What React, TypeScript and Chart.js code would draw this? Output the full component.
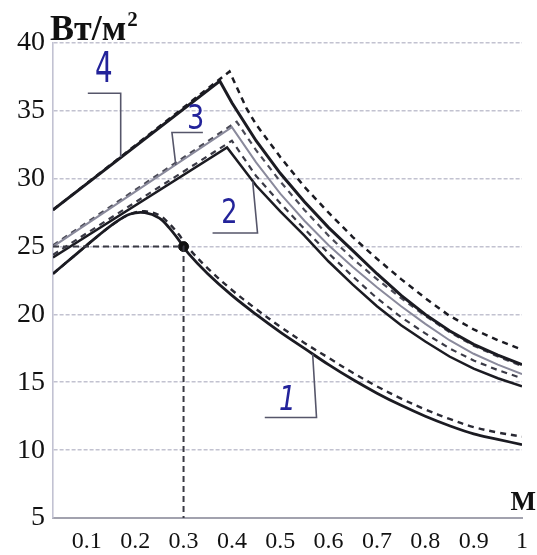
import React, { useEffect, useRef } from "react";
import { Chart, registerables } from "chart.js";

Chart.register(...registerables);

// ---- axis ticks ----
const xTickValues = [0.1, 0.2, 0.3, 0.4, 0.5, 0.6, 0.7, 0.8, 0.9, 1.0];
const xTickLabels = ["0.1", "0.2", "0.3", "0.4", "0.5", "0.6", "0.7", "0.8", "0.9", "1"];
const yTickValues = [5, 10, 15, 20, 25, 30, 35, 40];
const yUnit = "Вт/м";
const yUnitSup = "2";
const xUnit = "М";

// ---- curve 1 (solid / dashed) ----
const curve1X = [0.03, 0.08, 0.12, 0.16, 0.19, 0.22, 0.25, 0.27, 0.29, 0.31, 0.35, 0.40, 0.45, 0.50, 0.55, 0.60, 0.65, 0.70, 0.75, 0.80, 0.85, 0.90, 0.95, 1.00];
const curve1Y = [23.0, 24.5, 25.7, 26.8, 27.4, 27.5, 27.1, 26.4, 25.5, 24.5, 23.0, 21.4, 20.0, 18.7, 17.5, 16.3, 15.2, 14.2, 13.3, 12.5, 11.8, 11.2, 10.8, 10.4];
const curve1dY = [23.0, 24.5, 25.7, 26.8, 27.4, 27.6, 27.3, 26.7, 25.9, 24.9, 23.4, 21.8, 20.4, 19.1, 17.9, 16.8, 15.7, 14.7, 13.8, 13.0, 12.3, 11.7, 11.3, 11.0];

// ---- curve 2 ----
const curve2X = [0.03, 0.39, 0.45, 0.50, 0.55, 0.60, 0.65, 0.70, 0.75, 0.80, 0.85, 0.90, 0.95, 1.00];
const curve2Y = [24.2, 32.3, 29.5, 27.6, 25.8, 23.9, 22.2, 20.6, 19.2, 18.0, 16.9, 16.0, 15.3, 14.7];
const curve2dX = [0.03, 0.40, 0.45, 0.50, 0.55, 0.60, 0.65, 0.70, 0.75, 0.80, 0.85, 0.90, 0.95, 1.00];
const curve2dY = [24.4, 32.8, 30.2, 28.2, 26.3, 24.5, 22.8, 21.2, 19.8, 18.6, 17.5, 16.6, 15.9, 15.3];

// ---- curve 3 ----
const curve3X = [0.03, 0.40, 0.45, 0.50, 0.55, 0.60, 0.65, 0.70, 0.75, 0.80, 0.85, 0.90, 0.95, 1.00];
const curve3Y = [25.0, 33.8, 31.2, 28.9, 26.9, 25.1, 23.5, 22.0, 20.6, 19.3, 18.1, 17.1, 16.3, 15.6];
const curve3dX = [0.03, 0.41, 0.45, 0.50, 0.55, 0.60, 0.65, 0.70, 0.75, 0.80, 0.85, 0.90, 0.95, 1.00];
const curve3dY = [25.1, 34.2, 32.1, 29.8, 27.7, 25.8, 24.1, 22.6, 21.2, 19.9, 18.7, 17.7, 16.9, 16.2];

// ---- curve 4 ----
const curve4X = [0.03, 0.375, 0.40, 0.45, 0.50, 0.55, 0.60, 0.65, 0.70, 0.75, 0.80, 0.85, 0.90, 0.95, 1.00];
const curve4Y = [27.7, 37.2, 35.6, 32.8, 30.4, 28.3, 26.4, 24.7, 23.0, 21.4, 20.0, 18.8, 17.8, 17.0, 16.3];
const curve4dX = [0.03, 0.395, 0.43, 0.45, 0.50, 0.55, 0.60, 0.65, 0.70, 0.75, 0.80, 0.85, 0.90, 0.95, 1.00];
const curve4dY = [27.7, 37.9, 35.2, 34.0, 31.6, 29.4, 27.5, 25.7, 24.1, 22.6, 21.2, 19.9, 18.9, 18.1, 17.4];

// ---- marked point (0.3 m, 25 W/m2) ----
const markerLineX = [0.03, 0.3, 0.3];
const markerLineY = [25, 25, 5];
const markerPointX = [0.3];
const markerPointY = [25];

// ---- curve numbers with leader lines (data coordinates) ----
const curveLabels = ["4", "3", "2", "1"];
const labelX = [0.135, 0.325, 0.395, 0.515];
const labelY = [37.9, 34.3, 27.4, 13.6];
const leaderX = [
  [0.102, 0.17, 0.17],
  [0.34, 0.276, 0.284],
  [0.36, 0.453, 0.443],
  [0.468, 0.575, 0.567],
];
const leaderY = [
  [36.3, 36.3, 31.6],
  [33.4, 33.4, 31.0],
  [26.0, 26.0, 29.8],
  [12.4, 12.4, 17.1],
];

const zip = (xs: number[], ys: number[]) => xs.map((x, i) => ({ x, y: ys[i] }));

const SERIF = "'Liberation Serif', 'Times New Roman', serif";
const HAND = "'DejaVu Sans', sans-serif";

const labelStyle = [
  { size: 42, sx: 0.66, italic: false },
  { size: 34, sx: 0.8, italic: false },
  { size: 34, sx: 0.75, italic: false },
  { size: 33, sx: 0.8, italic: true },
];

const overlayPlugin = {
  id: "overlay",
  afterDraw(chart: any) {
    const ctx = chart.ctx as CanvasRenderingContext2D;
    const xs = chart.scales.x;
    const ys = chart.scales.y;
    ctx.save();
    // leader lines
    ctx.strokeStyle = "#56566a";
    ctx.lineWidth = 1.6;
    leaderX.forEach((lx, k) => {
      ctx.beginPath();
      lx.forEach((xv, j) => {
        const px = xs.getPixelForValue(xv);
        const py = ys.getPixelForValue(leaderY[k][j]);
        if (j === 0) ctx.moveTo(px, py);
        else ctx.lineTo(px, py);
      });
      ctx.stroke();
    });
    // curve numbers
    ctx.fillStyle = "#23239a";
    ctx.textAlign = "center";
    ctx.textBaseline = "middle";
    curveLabels.forEach((t, k) => {
      const st = labelStyle[k];
      const px = xs.getPixelForValue(labelX[k]);
      const py = ys.getPixelForValue(labelY[k]);
      ctx.save();
      ctx.translate(px, py);
      ctx.scale(st.sx, 1);
      ctx.font = `${st.italic ? "italic " : ""}${st.size}px ${HAND}`;
      ctx.fillText(t, 0, 0);
      ctx.restore();
    });
    // unit labels
    ctx.fillStyle = "#111";
    ctx.textAlign = "left";
    ctx.textBaseline = "alphabetic";
    ctx.font = `bold 36px ${SERIF}`;
    ctx.fillText(yUnit, 50, 40);
    const w = ctx.measureText(yUnit).width;
    ctx.font = `bold 21px ${SERIF}`;
    ctx.fillText(yUnitSup, 50 + w + 1, 26);
    ctx.font = `bold 27px ${SERIF}`;
    ctx.textAlign = "right";
    ctx.fillText(xUnit, 536, 510);
    ctx.restore();
  },
};

export default function App() {
  const ref = useRef<HTMLCanvasElement | null>(null);
  useEffect(() => {
    if (!ref.current) return;
    const solid = "#1b1b22";
    const line = (data: any[], color: string, width: number, dash: number[] = [], tension = 0) => ({
      data,
      borderColor: color,
      borderWidth: width,
      borderDash: dash,
      pointRadius: 0,
      tension,
      fill: false,
    });
    const chart = new Chart(ref.current, {
      type: "line",
      data: {
        datasets: [
          { ...line(zip(markerLineX, markerLineY), "#3a3a44", 2, [6, 4]) },
          {
            data: zip(markerPointX, markerPointY),
            showLine: false,
            pointRadius: 5,
            pointBackgroundColor: "#111",
            pointBorderColor: "#111",
          } as any,
          line(zip(curve4X, curve4Y), solid, 3),
          line(zip(curve4dX, curve4dY), solid, 2.5, [6, 5]),
          line(zip(curve3X, curve3Y), "#8a8a9c", 2),
          line(zip(curve3dX, curve3dY), "#4a4a56", 2.2, [6, 5]),
          line(zip(curve2X, curve2Y), solid, 2.5),
          line(zip(curve2dX, curve2dY), "#3a3a46", 2.2, [6, 5]),
          line(zip(curve1X, curve1Y), solid, 2.8, [], 0.35),
          line(zip(curve1X, curve1dY), "#2a2a34", 2.4, [6, 5], 0.35),
        ],
      },
      options: {
        responsive: false,
        animation: false,
        events: [],
        layout: { padding: { top: 43, right: 14, left: 0, bottom: 0 } },
        plugins: { legend: { display: false }, tooltip: { enabled: false } },
        scales: {
          x: {
            type: "linear",
            min: 0.03,
            max: 1.0,
            afterBuildTicks: (axis: any) => {
              axis.ticks = xTickValues.map((v) => ({ value: v }));
            },
            afterFit: (s: any) => {
              s.height = 37;
            },
            ticks: {
              autoSkip: false,
              maxRotation: 0,
              padding: 9,
              color: "#111",
              font: { family: SERIF, size: 24 },
              callback: (v: any) => {
                const i = xTickValues.findIndex((t) => Math.abs(t - Number(v)) < 1e-6);
                return i >= 0 ? xTickLabels[i] : "";
              },
            },
            grid: { display: false, drawTicks: false },
            border: { display: true, color: "#a2a2ae", width: 2 },
          },
          y: {
            type: "linear",
            min: 5,
            max: 40,
            afterBuildTicks: (axis: any) => {
              axis.ticks = yTickValues.map((v) => ({ value: v }));
            },
            afterFit: (s: any) => {
              s.width = 53;
            },
            ticks: {
              padding: 8,
              color: "#111",
              font: { family: SERIF, size: 28 },
            },
            grid: { color: "#c2c2d0", lineWidth: 1.6, drawTicks: false },
            border: { display: true, color: "#c2c2d2", width: 1.6, dash: [4, 2] },
          },
        },
      },
      plugins: [overlayPlugin],
    } as any);
    return () => chart.destroy();
  }, []);
  return (
    <div style={{ position: "fixed", left: 0, top: 0, width: 537, height: 555, background: "#fff" }}>
      <canvas ref={ref} width={537} height={555} style={{ display: "block" }} />
    </div>
  );
}
